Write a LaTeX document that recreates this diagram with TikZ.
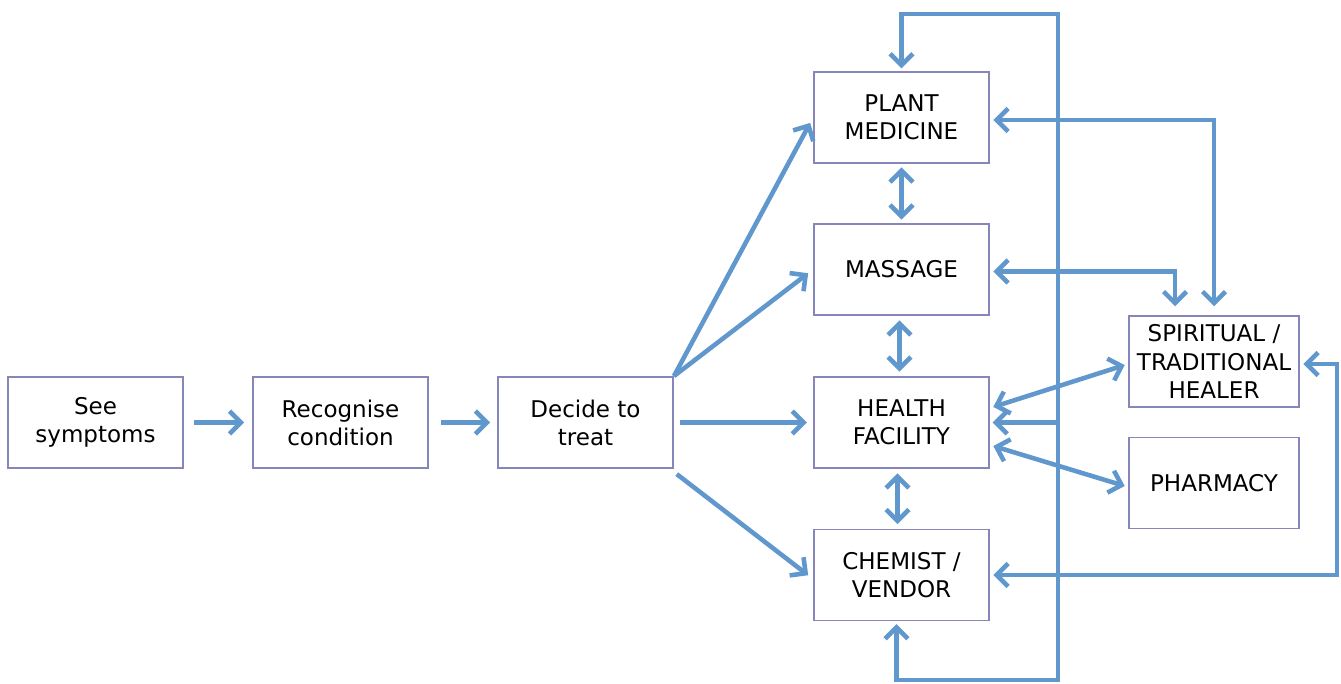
\documentclass[tikz,border=0pt]{standalone}
\usepackage{fontspec}
\setmainfont{DejaVu Sans}
\usepackage{xcolor}
\usepackage{tikz}
\usetikzlibrary{arrows.meta}
\definecolor{cArrow}{RGB}{96,151,205}
\definecolor{cBox}{RGB}{134,134,186}

\begin{document}
\begin{tikzpicture}[x=0.02cm,y=-0.02cm,
  box/.style={draw=cBox,line width=1.1pt,minimum width=3.5cm,minimum height=1.82cm,
    align=center,inner sep=0pt,font=\fontsize{13.1}{16}\selectfont},
  sidebox/.style={box,minimum width=3.4cm},
  arr/.style={draw=cArrow,line width=2.6pt,-{Straight Barb[length=6.5pt,width=13pt]}},
  arrb/.style={arr,{Straight Barb[length=6.5pt,width=13pt]}-{Straight Barb[length=6.5pt,width=13pt]}}]
\useasboundingbox (0,0) rectangle (1341,683);
\node[box] (see) at (95.5,422.5) {See\\symptoms};
\node[box] (rec) at (340.5,422.5) {Recognise\\condition};
\node[box] (dec) at (585.5,422.5) {Decide to\\treat};
\node[box] (plant) at (901.5,117.5) {PLANT\\MEDICINE};
\node[box] (mass) at (901.5,269.5) {MASSAGE};
\node[box] (health) at (901.5,422.5) {HEALTH\\FACILITY};
\node[box] (chem) at (901.5,575) {CHEMIST /\\VENDOR};
\node[sidebox] (spirit) at (1214,361.5) {SPIRITUAL /\\TRADITIONAL\\HEALER};
\node[sidebox] (pharm) at (1214,483) {PHARMACY};
\coordinate (loopT) at (1058,14);
\coordinate (loopB) at (1058,680);
% main chain
\draw[arr,shorten <=5.5pt,shorten >=4.5pt] (see) -- (rec);
\draw[arr,shorten <=7pt,shorten >=4pt] (rec) -- (dec);
\draw[arr,shorten >=3.5pt] (dec.north east) -- (plant.west);
\draw[arr,shorten >=3.5pt] (dec.north east) -- (mass.west);
\draw[arr,shorten <=3.5pt,shorten >=3.5pt] (dec) -- (health);
\draw[arr,shorten <=2pt,shorten >=3.5pt] ([yshift=-0.06cm]dec.south east) -- ([yshift=-0.08cm]chem.west);
% between treatment options
\draw[arrb,shorten <=2pt,shorten >=2pt] (plant) -- (mass);
\draw[arrb,shorten <=2.5pt,shorten >=2.5pt] ([xshift=-0.04cm]mass.south) -- ([xshift=-0.04cm]health.north);
\draw[arrb,shorten <=2.5pt,shorten >=2.5pt] ([xshift=-0.08cm]health.south) -- ([xshift=-0.08cm]chem.north);
\draw[arrb,shorten <=1.5pt,shorten >=1.5pt] ([xshift=-0.1cm]chem.south) |- (loopB) -- (loopT) -| (plant.north);
\draw[arr,shorten >=1.5pt] (health.east -| loopT) -- (health.east);
% links to healer and pharmacy
\draw[arrb,shorten <=2pt,shorten >=5pt] ([yshift=-0.05cm]plant.east) -| (spirit.north);
\draw[arrb,shorten <=2pt,shorten >=5pt] ([yshift=-0.04cm]mass.east) -| ([xshift=-0.78cm]spirit.north);
\draw[arrb,shorten <=2pt,shorten >=2pt] ([yshift=0.29cm]health.east) -- ([yshift=-0.05cm]spirit.west);
\draw[arrb,shorten <=2pt,shorten >=2pt] ([yshift=-0.45cm]health.east) -- ([yshift=-0.08cm]pharm.west);
\draw[arrb,shorten <=2pt,shorten >=2pt] ([yshift=-0.05cm]spirit.east) -- ++(0.74cm,0) |- (chem.east);
\end{tikzpicture}
\end{document}
